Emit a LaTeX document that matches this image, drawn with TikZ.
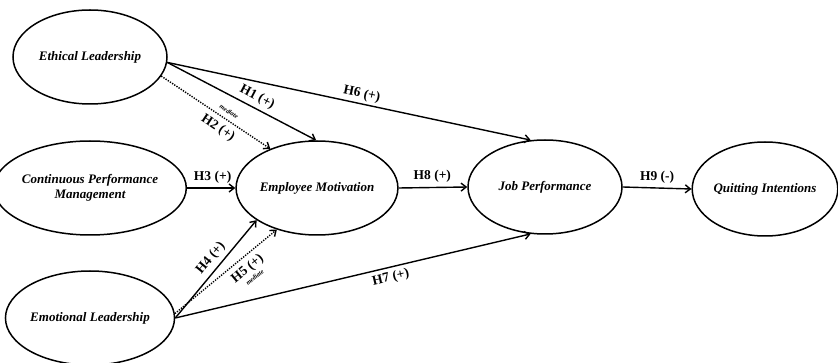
\documentclass[tikz,border=0pt]{standalone}
\usepackage{fontspec}
\setmainfont{Liberation Serif}
\usetikzlibrary{arrows.meta,positioning,shapes.geometric}

\begin{document}
\begin{tikzpicture}[
    x=1pt, y=-1pt,
    every node/.style={font=\fontsize{13}{15}\selectfont},
    construct/.style={ellipse, draw=black, line width=1.5pt, minimum width=154pt, minimum height=94pt, inner sep=0pt, font=\fontsize{13}{15.5}\selectfont\bfseries\itshape, align=center},
    hyp/.style={font=\fontsize{13.5}{15}\selectfont\bfseries, inner sep=0pt},
    med/.style={font=\fontsize{6.5}{7}\selectfont\bfseries\itshape, inner sep=0pt},
    arr/.style={-{Straight Barb[length=1.8mm, width=2.8mm]}, line width=1.4pt},
    medarr/.style={arr, dash pattern=on 1.3pt off 1.3pt}
]
  \useasboundingbox (0,0) rectangle (838,363);

  % constructs
  \node[construct] (eth)  at (90, 57)  {Ethical Leadership};
  \node[construct] (cpm)  at (90, 188) {Continuous Performance\\Management};
  \node[construct] (emo)  at (90, 318) {Emotional Leadership};
  \node[construct] (mot)  at (317, 188) {Employee Motivation};
  \node[construct] (job)  at (545, 187) {Job Performance};
  \node[construct, minimum width=144pt] (quit) at (765, 189) {Quitting Intentions};

  % direct paths
  \draw[arr] (eth.-4) -- node[hyp, sloped, above=4pt, pos=0.57] (h1) {H1 (+)} (mot.91);
  \draw[arr] (eth.-4) -- node[hyp, sloped, above=2.5pt, pos=0.53] (h6) {H6 (+)} (job.107);
  \draw[arr] (cpm.east) -- node[hyp, above=4pt, pos=0.53] (h3) {H3 (+)} (mot.west);
  \draw[arr] (emo.east) -- node[hyp, sloped, above=4pt, pos=0.54] (h4) {H4 (+)} (mot.208);
  \draw[arr] (emo.east) -- node[hyp, sloped, below=3.5pt, pos=0.6] (h7) {H7 (+)} (job.253);
  \draw[arr] (mot.east) -- node[hyp, above=4pt, pos=0.49] (h8) {H8 (+)} (job.west);
  \draw[arr] (job.east) -- node[hyp, above=4pt, pos=0.5] (h9) {H9 (-)} (quit.west);

  % mediated paths
  \draw[medarr] (eth.-15) -- node[hyp, sloped, below=5pt, pos=0.58] (h2) {H2 (+)}
                             node[med, sloped, above=5pt, pos=0.58] (m2) {mediate} (mot.140);
  \draw[medarr] (emo.3) -- node[hyp, sloped, below=5pt, pos=0.64] (h5) {H5 (+)}
                           node[med, sloped, below=20pt, pos=0.64] (m5) {mediate} (mot.226);
\end{tikzpicture}
\end{document}
